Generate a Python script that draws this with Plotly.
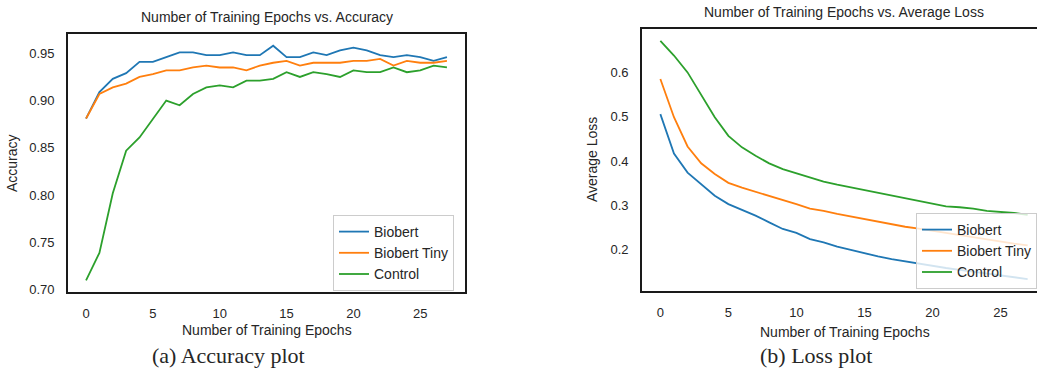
import plotly.graph_objects as go

epochs = list(range(28))

biobert_acc = [0.881, 0.909, 0.923, 0.929, 0.941, 0.941, 0.946, 0.951, 0.951, 0.948,
               0.948, 0.951, 0.948, 0.948, 0.958, 0.946, 0.946, 0.951, 0.948, 0.953,
               0.956, 0.953, 0.948, 0.946, 0.948, 0.946, 0.942, 0.946]
tiny_acc = [0.881, 0.907, 0.914, 0.918, 0.925, 0.928, 0.932, 0.932, 0.935, 0.937,
            0.935, 0.935, 0.932, 0.937, 0.940, 0.942, 0.937, 0.940, 0.940, 0.940,
            0.942, 0.942, 0.944, 0.937, 0.942, 0.940, 0.940, 0.942]
control_acc = [0.710, 0.739, 0.802, 0.847, 0.861, 0.880, 0.900, 0.895, 0.907, 0.914,
               0.916, 0.914, 0.921, 0.921, 0.923, 0.930, 0.925, 0.930, 0.928, 0.925,
               0.932, 0.930, 0.930, 0.935, 0.930, 0.932, 0.937, 0.935]

biobert_loss = [0.506, 0.417, 0.374, 0.347, 0.322, 0.303, 0.290, 0.277, 0.262, 0.247,
                0.238, 0.224, 0.217, 0.207, 0.200, 0.192, 0.185, 0.179, 0.174, 0.168,
                0.163, 0.159, 0.155, 0.151, 0.146, 0.142, 0.138, 0.134]
tiny_loss = [0.585, 0.499, 0.433, 0.395, 0.371, 0.351, 0.340, 0.331, 0.322, 0.312,
             0.303, 0.293, 0.288, 0.281, 0.275, 0.269, 0.263, 0.258, 0.252, 0.248,
             0.243, 0.238, 0.233, 0.228, 0.224, 0.219, 0.214, 0.210]
control_loss = [0.671, 0.638, 0.600, 0.548, 0.499, 0.457, 0.431, 0.412, 0.395, 0.382,
                0.373, 0.363, 0.354, 0.347, 0.341, 0.335, 0.328, 0.322, 0.317, 0.311,
                0.305, 0.298, 0.296, 0.293, 0.288, 0.286, 0.283, 0.279]

series_names = ["Biobert", "Biobert Tiny", "Control"]
colors = ["#1f77b4", "#ff7f0e", "#2ca02c"]

acc_ticks = [0.70, 0.75, 0.80, 0.85, 0.90, 0.95]
loss_ticks = [0.2, 0.3, 0.4, 0.5, 0.6]
x_ticks = [0, 5, 10, 15, 20, 25]

W, H = 1037, 388
FONT = "Liberation Sans, Arial, sans-serif"
SERIF = "Liberation Serif, Times New Roman, serif"
TXT = "#262626"


def px_x(p):
    return p / W


def px_y(p):
    return 1 - p / H


def padded(vals_list, frac=0.05):
    lo = min(min(v) for v in vals_list)
    hi = max(max(v) for v in vals_list)
    m = (hi - lo) * frac
    return [lo - m, hi + m]


fig = go.Figure()

for name, ys, c in zip(series_names, [biobert_acc, tiny_acc, control_acc], colors):
    fig.add_trace(go.Scatter(x=epochs, y=ys, mode="lines", name=name,
                             line=dict(color=c, width=1.8),
                             xaxis="x", yaxis="y", legend="legend"))
for name, ys, c in zip(series_names, [biobert_loss, tiny_loss, control_loss], colors):
    fig.add_trace(go.Scatter(x=epochs, y=ys, mode="lines", name=name,
                             line=dict(color=c, width=1.8),
                             xaxis="x2", yaxis="y2", legend="legend2"))

xr = padded([epochs])
axis_common = dict(showgrid=False, zeroline=False, showline=True,
                   linecolor="#1a1a1a", linewidth=1.6, ticks="",
                   tickfont=dict(family=FONT, size=13, color=TXT),
                   ticklabelstandoff=9)

legend_common = dict(xanchor="left", yanchor="top",
                     bgcolor="rgba(255,255,255,0.8)", bordercolor="#cccccc", borderwidth=1,
                     font=dict(family=FONT, size=14, color=TXT), tracegroupgap=0)

fig.update_layout(
    width=W, height=H,
    margin=dict(l=0, r=0, t=0, b=0, autoexpand=False),
    paper_bgcolor="white", plot_bgcolor="white",
    font=dict(family=FONT, color=TXT),
    xaxis=dict(axis_common, domain=[px_x(68), px_x(465)], range=xr,
               tickvals=x_ticks, mirror=True, anchor="y"),
    yaxis=dict(axis_common, domain=[px_y(292), px_y(34)],
               range=padded([biobert_acc, tiny_acc, control_acc]),
               tickvals=acc_ticks, tickformat=".2f", mirror=True, anchor="x"),
    xaxis2=dict(axis_common, domain=[px_x(642), 1.0],
                range=[xr[0], xr[0] + (W - 642) / (1046 - 642) * (xr[1] - xr[0])],
                tickvals=x_ticks, mirror=True, anchor="y2"),
    yaxis2=dict(axis_common, domain=[px_y(291), px_y(29)],
                range=padded([biobert_loss, tiny_loss, control_loss]),
                tickvals=loss_ticks, tickformat=".1f", mirror=False, anchor="x2"),
    legend=dict(legend_common, x=px_x(333), y=px_y(215)),
    legend2=dict(legend_common, x=px_x(916), y=px_y(213)),
    showlegend=True,
)

ann = []


def add_text(text, x, y, size, family=FONT, angle=0):
    ann.append(dict(text=text, x=px_x(x), y=px_y(y), xref="paper", yref="paper",
                    showarrow=False, xanchor="center", yanchor="middle",
                    textangle=angle, font=dict(family=family, size=size, color=TXT)))


add_text("Number of Training Epochs vs. Accuracy", 266.5, 17.5, 14)
add_text("Number of Training Epochs vs. Average Loss", 844, 11.7, 14)
add_text("Number of Training Epochs", 266.5, 330, 14)
add_text("Number of Training Epochs", 845, 332, 14)
add_text("Accuracy", 12, 163, 14, angle=-90)
add_text("Average Loss", 592, 160, 14, angle=-90)
add_text("(a) Accuracy plot", 228, 355, 22, family=SERIF)
add_text("(b) Loss plot", 816, 355, 22, family=SERIF)
fig.update_layout(annotations=ann)

fig.write_html("out.html", config={"displayModeBar": False},
               post_script="document.body.style.margin='0';document.body.style.overflow='hidden';")
